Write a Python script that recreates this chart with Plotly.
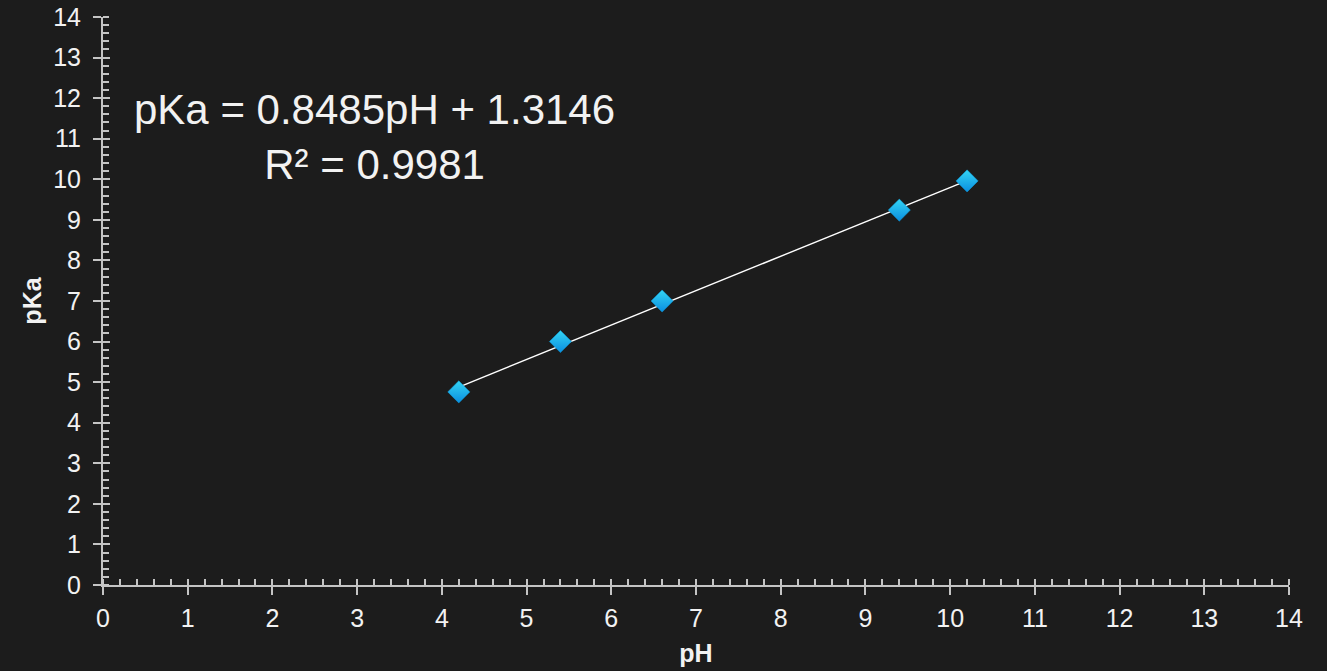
import plotly.graph_objects as go

# Measured points
ph = [4.2, 5.4, 6.6, 9.4, 10.2]
pka = [4.76, 6.0, 7.0, 9.24, 9.96]

# Linear fit reported on the chart
slope = 0.8485
intercept = 1.3146
r_squared = 0.9981

x_ticks = list(range(0, 15))
y_ticks = list(range(0, 15))

BG = "#1c1c1c"
AXIS = "#c4c4c4"
TEXT = "#f2f2f2"
FONT = "Liberation Sans, Arial, sans-serif"

fit_x = [min(ph), max(ph)]
fit_y = [slope * v + intercept for v in fit_x]

fig = go.Figure()

fig.add_trace(go.Scatter(
    x=fit_x, y=fit_y, mode="lines",
    line=dict(color="#ffffff", width=1.4),
    hoverinfo="skip", showlegend=False,
))

fig.add_trace(go.Scatter(
    x=ph, y=pka, mode="markers",
    marker=dict(
        symbol="diamond", size=17, color="#34d4f4",
        gradient=dict(type="vertical", color="#0a8ee0"),
        line=dict(color="#0b9ee0", width=0.5),
    ),
    showlegend=False,
))

# Invisible helper trace so the overlay axes get drawn
fig.add_trace(go.Scatter(
    x=[None], y=[None], xaxis="x2", yaxis="y2",
    showlegend=False, hoverinfo="skip",
))

axis_common = dict(
    range=[0, 14], dtick=1, tick0=0, automargin=False,
    showgrid=False, zeroline=False,
    showline=True, linecolor=AXIS, linewidth=2,
    ticks="outside", ticklen=8, tickwidth=2, tickcolor=AXIS,
    tickfont=dict(family=FONT, size=25, color=TEXT),
    minor=dict(ticks="inside", dtick=0.2, tick0=0, ticklen=6,
               tickwidth=1.5, tickcolor=AXIS, showgrid=False),
)

fig.update_layout(
    width=1327, height=671,
    paper_bgcolor=BG, plot_bgcolor=BG,
    margin=dict(l=103, r=38, t=17, b=86),
    font=dict(family=FONT, color=TEXT),
    xaxis=dict(
        **axis_common,
        tickvals=x_ticks, ticklabelstandoff=2,
        title=dict(text="<b>pH</b>", font=dict(family=FONT, size=25, color=TEXT), standoff=13),
    ),
    yaxis=dict(
        **axis_common,
        tickvals=y_ticks, ticklabelstandoff=7,
        title=dict(text="<b>pKa</b>", font=dict(family=FONT, size=25, color=TEXT), standoff=4),
    ),
    xaxis2=dict(
        overlaying="x", matches="x", range=[0, 14], tickvals=x_ticks,
        ticks="inside", ticklen=6, tickwidth=2, tickcolor=AXIS, automargin=False,
        showticklabels=False, showline=False, showgrid=False, zeroline=False,
        side="bottom",
    ),
    yaxis2=dict(
        overlaying="y", matches="y", range=[0, 14], tickvals=y_ticks,
        ticks="inside", ticklen=7, tickwidth=2, tickcolor=AXIS, automargin=False,
        showticklabels=False, showline=False, showgrid=False, zeroline=False,
        side="left",
    ),
    annotations=[dict(
        x=3.21, y=11.04, xref="x", yref="y",
        text=f"pKa = {slope}pH + {intercept}<br>R² = {r_squared}",
        showarrow=False, align="center",
        font=dict(family=FONT, size=42, color=TEXT),
    )],
)

fig.write_html("out.html")
